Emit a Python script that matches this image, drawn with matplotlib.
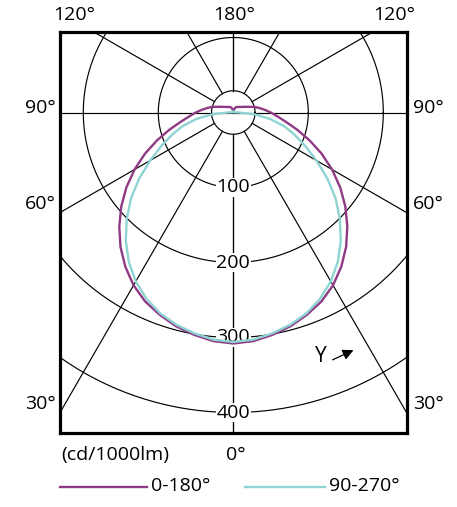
import numpy as np
import matplotlib
matplotlib.use("Agg")
import matplotlib.pyplot as plt
from matplotlib.lines import Line2D

plt.rcParams['font.family'] = ['Open Sans', 'DejaVu Sans']

# angulos gamma (grados desde la vertical hacia abajo)
angles = [0, 5, 10, 15, 20, 25, 30, 35, 40, 45, 50, 55, 60, 65, 70, 75, 80, 85, 90,
          95, 100, 105, 110, 115, 120, 125, 130, 135, 140, 145, 150, 155, 160, 165,
          170, 175, 180]

# intensidad cd/1000lm, plano C0-C180
c0_180 = [308, 306, 301, 295, 287, 278, 266, 251, 234, 215, 195, 174, 152, 130, 108,
          88, 71, 59, 50, 42, 35, 29, 22, 18, 15, 13, 11.5, 10.5, 9.6, 9, 8.5, 7.5,
          6, 5, 4, 3, 2.5]

# plano C90-C270
c90_270 = [306, 304, 299, 293, 285, 274, 260, 243, 223, 201, 178, 153, 128, 106, 87,
           70, 50, 29, 8, 2, 1, 1, 1, 1, 1, 1, 1, 1, 1, 1, 1, 1, 1, 1, 1, 1, 1]

rings = [100, 200, 300, 400]
spoke_angles = [0, 30, 60, 120, 150, 180]
series_labels = ['0-180°', '90-270°']
series_colors = ['#8e3a84', '#8fd3d3']

W, H = 457, 507
fig = plt.figure(figsize=(W / 100, H / 100), dpi=100)

# marco en pixeles y escala 0.75 px por cd
L, R, T, B = 60, 407, 32, 433
cx, cy = 233.3, 112.5
k = 0.75
ax = fig.add_axes([L / W, 1 - B / H, (R - L) / W, (B - T) / H])
ax.set_xlim(-(cx - L) / k, (R - cx) / k)
ax.set_ylim(-(B - cy) / k, (cy - T) / k)

# grilla polar
t = np.linspace(0, 2 * np.pi, 400)
r_in = 29
for r in [r_in] + rings:
    ax.plot(r * np.cos(t), r * np.sin(t), color='black', lw=0.85, zorder=1)
for a in spoke_angles:
    th = np.deg2rad(a)
    for s in (-1, 1):
        ax.plot([s * r_in * np.sin(th), s * 700 * np.sin(th)],
                [-r_in * np.cos(th), -700 * np.cos(th)], color='black', lw=0.85, zorder=1)
ax.axhline(0, color='black', lw=0.85, zorder=1)

# curvas
th = np.deg2rad(angles)
for vals, col in zip([c0_180, c90_270], series_colors):
    v = np.array(vals)
    xr = v * np.sin(th)
    yr = -v * np.cos(th)
    x = np.concatenate([-xr[::-1], xr[1:]])
    y = np.concatenate([yr[::-1], yr[1:]])
    ax.plot(x, y, color=col, lw=1.7, zorder=3, solid_joinstyle='round')

for r in rings:
    ax.text(0, -r, str(r), ha='center', va='center', fontsize=14, zorder=2,
            bbox=dict(facecolor='white', edgecolor='none', pad=0.3))

ax.set_xticks([])
ax.set_yticks([])
for sp in ax.spines.values():
    sp.set_linewidth(2.3)
    sp.set_zorder(5)


def ftext(x, y, s, size=14, **kw):
    fig.text(x / W, 1 - y / H, s, fontsize=size, va='center', **kw)


ftext(74, 15, '120°', ha='center')
ftext(234, 15, '180°', ha='center')
ftext(394, 15, '120°', ha='center')
for lab, yy in [('90°', 108), ('60°', 204), ('30°', 404)]:
    ftext(40, yy, lab, ha='center')
    ftext(428, yy, lab, ha='center')
ftext(61, 455, '(cd/1000lm)', ha='left')
ftext(236, 455, '0°', ha='center')
ftext(321, 357, 'Y', size=15, ha='center')
ax.annotate('', xy=((356 - cx) / k, (cy - 349) / k), xytext=((330 - cx) / k, (cy - 361) / k),
            arrowprops=dict(arrowstyle='-|>', color='black', lw=0.9, mutation_scale=16),
            annotation_clip=False)

# leyenda
for (x0, x1, xt), lab, col in zip([(60, 147, 151), (245, 325, 329)], series_labels, series_colors):
    fig.add_artist(Line2D([x0 / W, x1 / W], [1 - 487 / H, 1 - 487 / H], color=col, lw=1.7))
    ftext(xt, 486, lab, ha='left')

fig.savefig('out.png', dpi=100)
